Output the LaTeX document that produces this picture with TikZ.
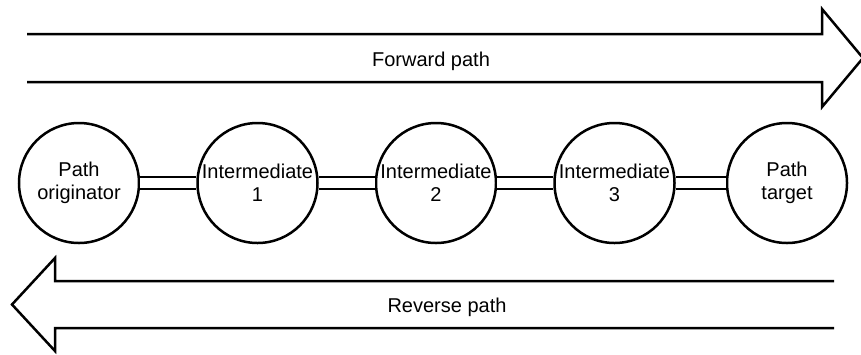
\documentclass[tikz,border=0pt]{standalone}
\usepackage{fontspec}
\setmainfont{Liberation Sans}
\usetikzlibrary{positioning}

\begin{document}
\begin{tikzpicture}[
		x=1pt, y=-1pt,
		line width=2.5pt,
		node distance=56pt,                % Abstand zwischen den Kreisen
		every node/.style={font=\fontsize{20}{23}\selectfont},
		station/.style={
			draw,
			circle,
			fill=white,
			minimum size=120pt,
			inner sep=0pt,
			align=center},
		link/.style={
			draw,
			double=white,
			double distance=9.5pt}
		]
		\useasboundingbox (0,0) rectangle (861,354);
		
		% 1. Pfeil oben (Hinweg)
		\draw (27,34) -- (822,34) -- (822,9) -- (863,58) -- (822,107) -- (822,82) -- (27,82);
		\node (fwd) at (431,61) {Forward path};
		
		% 2. Pfeil unten (Rueckweg)
		\draw (834,281) -- (55,281) -- (55,258) -- (12,304.5) -- (55,351) -- (55,328) -- (834,328);
		\node (rev) at (447,307) {Reverse path};
		
		% 3. Knoten
		\node[station] (orig) at (79,183) {Path\\originator};
		\node[station] (int1) [right=of orig] {Intermediate\\1};
		\node[station] (int2) [right=of int1] {Intermediate\\2};
		\node[station] (int3) [right=of int2] {Intermediate\\3};
		\node[station] (targ) [right=50pt of int3] {Path\\target};
		
		% Verbindungen
		\path
		(orig) edge [link] (int1)
		(int1) edge [link] (int2)
		(int2) edge [link] (int3)
		(int3) edge [link] (targ);
		
	\end{tikzpicture}
\end{document}
